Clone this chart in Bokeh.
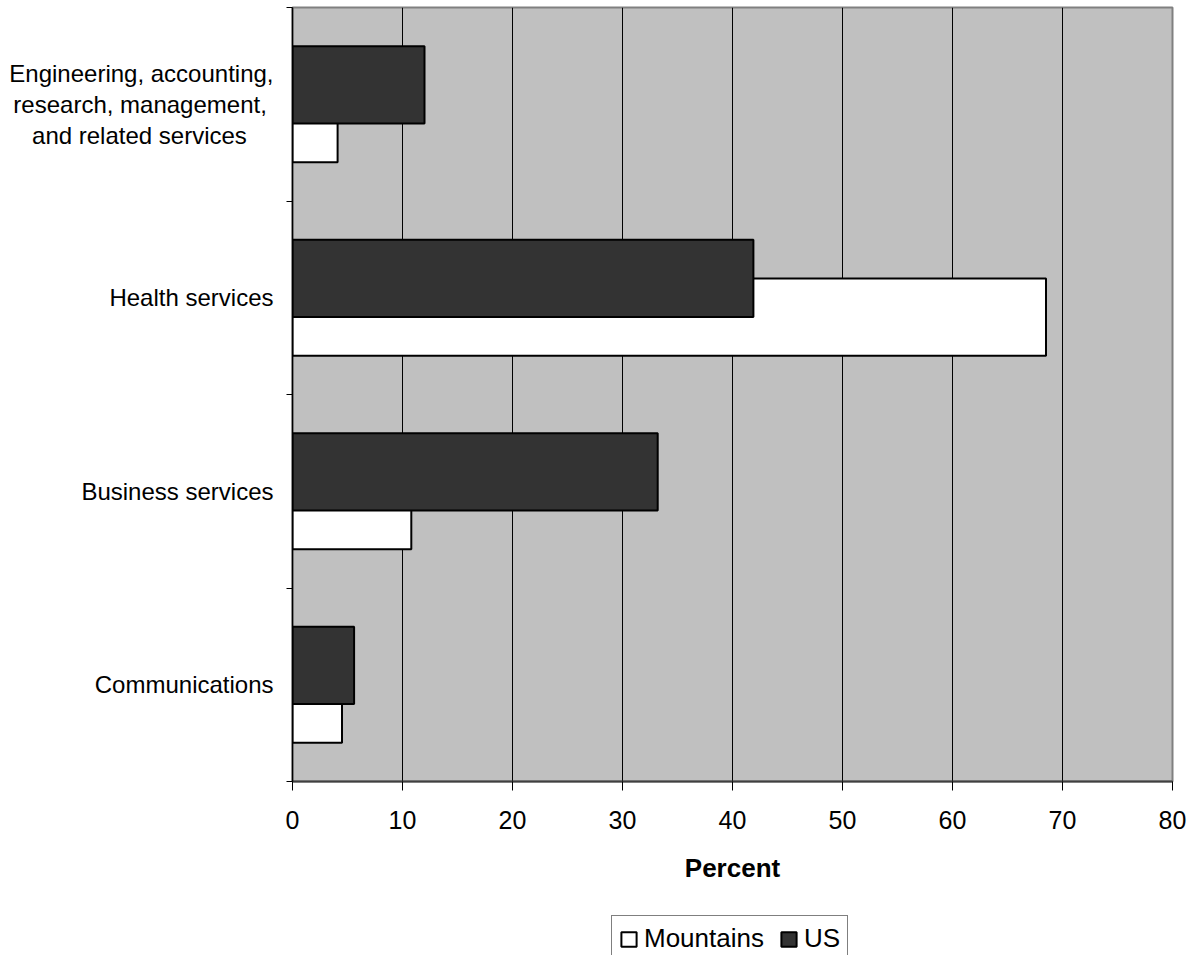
from bokeh.plotting import figure
from bokeh.models import (FixedTicker, Legend, LegendItem, ColumnDataSource, Range1d)
from bokeh.layouts import column
from bokeh.embed import file_html
from bokeh.resources import INLINE

NB = "\u00a0"
categories = ["Engineering, accounting,\nresearch, management," + NB + "\nand related services" + NB * 4,
              "Health services", "Business services", "Communications"]
mountains = [4.1, 68.5, 10.8, 4.5]
us = [12.0, 41.9, 33.2, 5.6]
x_ticks = [0, 10, 20, 30, 40, 50, 60, 70, 80]
series_names = ["Mountains", "US"]

n = len(categories)
centers = [n - 0.5 - i for i in range(n)]  # top to bottom

FONT = "Liberation Sans"
W = 1189

p = figure(width=W, height=905, output_backend="svg", toolbar_location=None,
           x_range=Range1d(0, 80), y_range=Range1d(0, n),
           min_border_left=292, min_border_right=17, min_border_top=7, min_border_bottom=124)

p.background_fill_color = "#c0c0c0"
p.border_fill_color = "white"
p.outline_line_color = "#808080"
p.outline_line_width = 2

src_m = ColumnDataSource(dict(y=[c - 0.1 for c in centers], right=mountains))
src_u = ColumnDataSource(dict(y=[c + 0.1 for c in centers], right=us))

style_m = dict(fill_color="white", line_color="black", line_width=2)
style_u = dict(fill_color="#333333", line_color="black", line_width=2)

p.hbar(y="y", right="right", left=0, height=0.4, source=src_m, **style_m)
p.hbar(y="y", right="right", left=0, height=0.4, source=src_u, **style_u)

# grid
p.ygrid.visible = False
p.xgrid.ticker = FixedTicker(ticks=x_ticks)
p.xgrid.grid_line_color = "black"
p.xgrid.grid_line_width = 1
p.xgrid.grid_line_alpha = 1.0

# x axis
xa = p.xaxis[0]
xa.ticker = FixedTicker(ticks=x_ticks)
xa.axis_label = "Percent"
xa.axis_label_text_font = FONT
xa.axis_label_text_font_style = "bold"
xa.axis_label_text_font_size = "26px"
xa.axis_label_text_color = "black"
xa.axis_label_standoff = 21
xa.major_label_text_font = FONT
xa.major_label_text_font_size = "25px"
xa.major_label_text_color = "black"
xa.major_label_standoff = 20
xa.major_tick_out = 9
xa.major_tick_in = 0
xa.major_tick_line_color = "black"
xa.minor_tick_line_color = None
xa.axis_line_color = "#404040"
xa.axis_line_width = 2

# y axis: ticks at category boundaries, labels at centres
ya = p.yaxis[0]
ya.ticker = FixedTicker(ticks=centers, minor_ticks=list(range(n + 1)))
ya.major_label_overrides = {c: cat for c, cat in zip(centers, categories)}
ya.major_label_text_font = FONT
ya.major_label_text_font_size = "24px"
ya.major_label_text_color = "black"
ya.major_label_text_line_height = 1.15
ya.major_label_standoff = 13
ya.major_tick_out = 0
ya.major_tick_in = 0
ya.major_tick_line_color = None
ya.minor_tick_out = 6
ya.minor_tick_in = 0
ya.minor_tick_line_color = "black"
ya.axis_line_color = "black"
ya.axis_line_width = 1.5

# legend strip below the chart
lf = figure(width=W, height=50, output_backend="svg", toolbar_location=None,
            x_range=Range1d(0, 1), y_range=Range1d(0, 1),
            x_axis_location=None, y_axis_location=None,
            min_border_left=292, min_border_right=17, min_border_top=0, min_border_bottom=0)
lf.outline_line_color = None
lf.background_fill_color = "white"
lf.border_fill_color = "white"
lf.xgrid.visible = False
lf.ygrid.visible = False
offscreen = dict(y=[-50.0], left=[0.4], right=[0.5])
lm = lf.hbar(y="y", right="right", left="left", height=0.4,
             source=ColumnDataSource(dict(offscreen)), **style_m)
lu = lf.hbar(y="y", right="right", left="left", height=0.4,
             source=ColumnDataSource(dict(offscreen)), **style_u)

legend = Legend(items=[LegendItem(label=series_names[0], renderers=[lm]),
                       LegendItem(label=series_names[1], renderers=[lu])],
                location=(319, -7), orientation="horizontal",
                label_text_font=FONT, label_text_font_size="26px", label_text_color="black",
                glyph_width=19, glyph_height=18, label_standoff=6, spacing=15,
                padding=7, margin=0, border_line_color="black", border_line_width=1,
                background_fill_color="white", background_fill_alpha=1.0)
lf.add_layout(legend, "center")

layout = column(p, lf, spacing=0)

with open("out.html", "w") as f:
    f.write(file_html(layout, INLINE))
